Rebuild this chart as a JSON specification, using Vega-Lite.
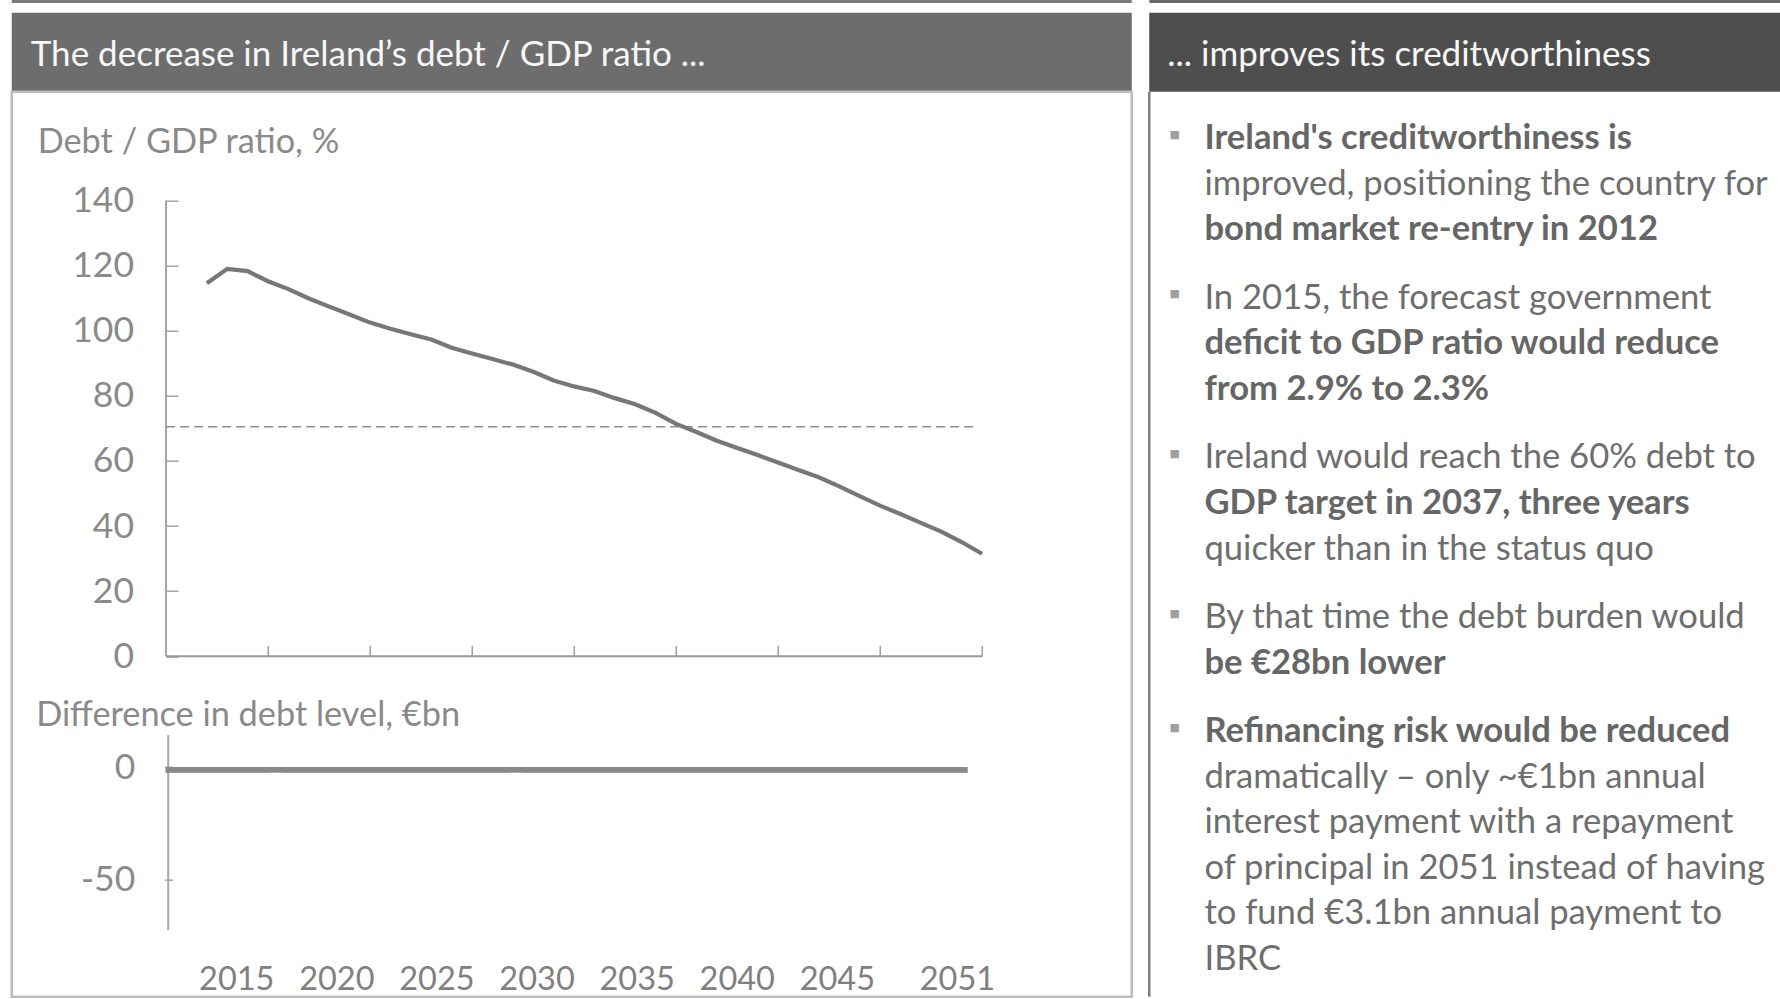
{
  "$schema": "https://vega.github.io/schema/vega-lite/v6.json",
  "background": "#ffffff",
  "padding": {"left": 9.75, "top": 0, "right": 0, "bottom": 0},
  "config": {"font": "Lato", "view": {"stroke": null}},
  "datasets": {
    "ratio": [
      {"year": 2013, "ratio": 114.6}, {"year": 2014, "ratio": 119.0}, {"year": 2015, "ratio": 118.3},
      {"year": 2016, "ratio": 115.2}, {"year": 2017, "ratio": 112.8}, {"year": 2018, "ratio": 109.9},
      {"year": 2019, "ratio": 107.4}, {"year": 2020, "ratio": 105.0}, {"year": 2021, "ratio": 102.5},
      {"year": 2022, "ratio": 100.6}, {"year": 2023, "ratio": 98.9}, {"year": 2024, "ratio": 97.3},
      {"year": 2025, "ratio": 94.8}, {"year": 2026, "ratio": 93.0}, {"year": 2027, "ratio": 91.3},
      {"year": 2028, "ratio": 89.6}, {"year": 2029, "ratio": 87.4}, {"year": 2030, "ratio": 84.7},
      {"year": 2031, "ratio": 82.9}, {"year": 2032, "ratio": 81.5}, {"year": 2033, "ratio": 79.3},
      {"year": 2034, "ratio": 77.4}, {"year": 2035, "ratio": 74.8}, {"year": 2036, "ratio": 71.4},
      {"year": 2037, "ratio": 68.9}, {"year": 2038, "ratio": 66.2}, {"year": 2039, "ratio": 64.0},
      {"year": 2040, "ratio": 61.8}, {"year": 2041, "ratio": 59.5}, {"year": 2042, "ratio": 57.2},
      {"year": 2043, "ratio": 55.0}, {"year": 2044, "ratio": 52.2}, {"year": 2045, "ratio": 49.2},
      {"year": 2046, "ratio": 46.3}, {"year": 2047, "ratio": 43.7}, {"year": 2048, "ratio": 41.0},
      {"year": 2049, "ratio": 38.3}, {"year": 2050, "ratio": 35.1}, {"year": 2051, "ratio": 31.5}
    ],
    "diff": [
      {"year": 2012, "diff": -2.6}, {"year": 2013, "diff": -2.6}, {"year": 2014, "diff": -2.6}, {"year": 2015, "diff": -2.6},
      {"year": 2016, "diff": -2.6}, {"year": 2017, "diff": -2.6}, {"year": 2018, "diff": -2.6}, {"year": 2019, "diff": -2.6},
      {"year": 2020, "diff": -2.6}, {"year": 2021, "diff": -2.6}, {"year": 2022, "diff": -2.6}, {"year": 2023, "diff": -2.6},
      {"year": 2024, "diff": -2.6}, {"year": 2025, "diff": -2.6}, {"year": 2026, "diff": -2.6}, {"year": 2027, "diff": -2.6},
      {"year": 2028, "diff": -2.6}, {"year": 2029, "diff": -2.6}, {"year": 2030, "diff": -2.6}, {"year": 2031, "diff": -2.6},
      {"year": 2032, "diff": -2.6}, {"year": 2033, "diff": -2.6}, {"year": 2034, "diff": -2.6}, {"year": 2035, "diff": -2.6},
      {"year": 2036, "diff": -2.6}, {"year": 2037, "diff": -2.6}, {"year": 2038, "diff": -2.6}, {"year": 2039, "diff": -2.6},
      {"year": 2040, "diff": -2.6}, {"year": 2041, "diff": -2.6}, {"year": 2042, "diff": -2.6}, {"year": 2043, "diff": -2.6},
      {"year": 2044, "diff": -2.6}, {"year": 2045, "diff": -2.6}, {"year": 2046, "diff": -2.6}, {"year": 2047, "diff": -2.6},
      {"year": 2048, "diff": -2.6}, {"year": 2049, "diff": -2.6}, {"year": 2050, "diff": -2.6}, {"year": 2051, "diff": -2.6}
    ],
    "bullets": [
      {"line": 0, "text": "Ireland's creditworthiness is", "bold": true, "first": true},
      {"line": 1, "text": "improved, positioning the country for", "bold": false, "first": false},
      {"line": 2, "text": "bond market re-entry in 2012", "bold": true, "first": false},
      {"line": 3.5, "text": "In 2015, the forecast government", "bold": false, "first": true},
      {"line": 4.5, "text": "deficit to GDP ratio would reduce", "bold": true, "first": false},
      {"line": 5.5, "text": "from 2.9% to 2.3%", "bold": true, "first": false},
      {"line": 7, "text": "Ireland would reach the 60% debt to", "bold": false, "first": true},
      {"line": 8, "text": "GDP target in 2037, three years", "bold": true, "first": false},
      {"line": 9, "text": "quicker than in the status quo", "bold": false, "first": false},
      {"line": 10.5, "text": "By that time the debt burden would", "bold": false, "first": true},
      {"line": 11.5, "text": "be €28bn lower", "bold": true, "first": false},
      {"line": 13, "text": "Refinancing risk would be reduced", "bold": true, "first": true},
      {"line": 14, "text": "dramatically – only ~€1bn annual", "bold": false, "first": false},
      {"line": 15, "text": "interest payment with a repayment", "bold": false, "first": false},
      {"line": 16, "text": "of principal in 2051 instead of having", "bold": false, "first": false},
      {"line": 17, "text": "to fund €3.1bn annual payment to", "bold": false, "first": false},
      {"line": 18, "text": "IBRC", "bold": false, "first": false}
    ]
  },
  "spacing": 13.5,
  "bounds": "full",
  "hconcat": [
    {
      "spacing": 9.7,
      "bounds": "flush",
      "vconcat": [
        {
          "width": 1120,
          "height": 3,
          "view": {"fill": "#7a7a7a", "stroke": null},
          "data": {"values": [{"edge": ""}]},
          "mark": {"type": "text", "baseline": "top", "fontSize": 1},
          "encoding": {"text": {"field": "edge"}}
        },
        {
          "spacing": 0,
          "bounds": "flush",
          "vconcat": [
            {
              "width": 1120,
              "height": 79,
              "view": {"fill": "#6d6d6d", "stroke": null},
              "data": {"values": [{"heading": "The decrease in Ireland’s debt / GDP ratio ..."}]},
              "mark": {"type": "text", "align": "left", "baseline": "middle", "dx": 19, "dy": 3, "font": "Lato", "fontSize": 35, "color": "#f7f7f7"},
              "encoding": {
                "text": {"field": "heading"},
                "x": {"datum": 0, "type": "quantitative", "scale": {"domain": [0, 1]}, "axis": null}
              }
            },
            {
              "width": 1120,
              "height": 905,
              "view": {"stroke": "#bdbdbd", "strokeWidth": 2.5, "fill": null},
              "resolve": {"scale": {"x": "independent", "y": "independent"}, "axis": {"x": "independent", "y": "independent"}},
              "layer": [
                {
                  "layer": [
                    {
                      "data": {"values": [{}]},
                      "mark": {"type": "rule", "color": "#a3a3a3", "strokeWidth": 2},
                      "encoding": {
                        "x": {"datum": 2011, "type": "quantitative", "scale": {"domain": [2003.436, 2058.338], "nice": false, "zero": false}},
                        "y": {"datum": 0, "type": "quantitative", "scale": {"domain": [-104.55, 173.42], "nice": false, "zero": false}},
                        "y2": {"datum": 140}
                      }
                    },
                    {
                      "data": {"values": [{}]},
                      "mark": {"type": "rule", "color": "#9a9a9a", "strokeWidth": 2},
                      "encoding": {
                        "x": {"datum": 2011, "type": "quantitative", "scale": {"domain": [2003.436, 2058.338], "nice": false, "zero": false}},
                        "x2": {"datum": 2051},
                        "y": {"datum": 0, "type": "quantitative", "scale": {"domain": [-104.55, 173.42], "nice": false, "zero": false}}
                      }
                    },
                    {
                      "data": {"values": [{"target": 70.5}]},
                      "mark": {"type": "rule", "color": "#8e8e8e", "strokeWidth": 1.6, "strokeDash": [9, 5]},
                      "encoding": {
                        "x": {"datum": 2011, "type": "quantitative", "scale": {"domain": [2003.436, 2058.338], "nice": false, "zero": false}},
                        "x2": {"datum": 2050.8},
                        "y": {"field": "target", "type": "quantitative", "scale": {"domain": [-104.55, 173.42], "nice": false, "zero": false}}
                      }
                    },
                    {
                      "data": {"name": "ratio"},
                      "mark": {"type": "line", "color": "#777777", "strokeWidth": 4.2},
                      "encoding": {
                        "x": {
                          "field": "year", "type": "quantitative",
                          "scale": {"domain": [2003.436, 2058.338], "nice": false, "zero": false},
                          "axis": {
                            "orient": "top", "offset": -564.6, "values": [2016, 2021, 2026, 2031, 2036, 2041, 2046, 2051],
                            "labels": false, "domain": false, "grid": false, "ticks": true, "tickSize": 11,
                            "tickColor": "#a0a0a0", "tickWidth": 1.5, "title": null
                          }
                        },
                        "y": {
                          "field": "ratio", "type": "quantitative",
                          "scale": {"domain": [-104.55, 173.42], "nice": false, "zero": false},
                          "axis": {
                            "orient": "left", "offset": -154.3, "values": [0, 20, 40, 60, 80, 100, 120, 140],
                            "domain": false, "grid": false, "ticks": true, "tickSize": -12, "tickColor": "#a6a6a6", "tickWidth": 1.5,
                            "labelPadding": 44.5, "labelFont": "Lato", "labelFontSize": 35.5, "labelColor": "#8a8a8a",
                            "labelFlush": false, "labelOverlap": false, "labelBaseline": "middle",
                            "title": "Debt / GDP ratio, %", "titleAngle": 0, "titleAlign": "left", "titleBaseline": "middle",
                            "titleX": -128.9, "titleY": 50.8, "titleFont": "Lato", "titleFontSize": 34.3,
                            "titleFontWeight": "normal", "titleColor": "#8a8a8a"
                          }
                        }
                      }
                    }
                  ]
                },
                {
                  "layer": [
                    {
                      "data": {"values": [{}]},
                      "mark": {"type": "rule", "color": "#a8a8a8", "strokeWidth": 2},
                      "encoding": {
                        "x": {"datum": 2011.6, "type": "quantitative", "scale": {"domain": [2004.035, 2059.481], "nice": false, "zero": false}},
                        "y": {"datum": -72.57, "type": "quantitative", "scale": {"domain": [-102.27, 300.67], "nice": false, "zero": false}},
                        "y2": {"datum": 14.25}
                      }
                    },
                    {
                      "data": {"name": "diff"},
                      "mark": {"type": "bar", "orient": "vertical", "width": 21.5, "color": "#898989"},
                      "encoding": {
                        "x": {
                          "field": "year", "type": "quantitative",
                          "scale": {"domain": [2004.035, 2059.481], "nice": false, "zero": false},
                          "axis": {
                            "orient": "bottom", "offset": -17.7, "values": [2015, 2020, 2025, 2030, 2035, 2040, 2045, 2051],
                            "format": "d", "domain": false, "ticks": false, "grid": false, "labelPadding": 0,
                            "labelBaseline": "middle", "labelFont": "Lato", "labelFontSize": 32.5, "labelColor": "#808080",
                            "labelFlush": false, "labelOverlap": false, "title": null
                          }
                        },
                        "y": {
                          "field": "diff", "type": "quantitative",
                          "scale": {"domain": [-102.27, 300.67], "nice": false, "zero": false},
                          "axis": {
                            "orient": "left", "offset": -152.8, "values": [0, -50],
                            "labelExpr": "replace(datum.label, '−', '-')",
                            "domain": false, "grid": false, "ticks": true, "tickSize": -8, "tickColor": "#a6a6a6", "tickWidth": 1.5,
                            "labelPadding": 37.8, "labelFont": "Lato", "labelFontSize": 35.5, "labelColor": "#8a8a8a",
                            "labelFlush": false, "labelOverlap": false, "labelBaseline": "middle",
                            "title": "Difference in debt level, €bn", "titleAngle": 0, "titleAlign": "left", "titleBaseline": "middle",
                            "titleX": -128.9, "titleY": 623.3, "titleFont": "Lato", "titleFontSize": 34.3,
                            "titleFontWeight": "normal", "titleColor": "#8a8a8a"
                          }
                        },
                        "y2": {"datum": 0}
                      }
                    }
                  ]
                }
              ]
            }
          ]
        }
      ]
    },
    {
      "spacing": 9.7,
      "bounds": "flush",
      "vconcat": [
        {
          "width": 633,
          "height": 3,
          "view": {"fill": "#6a6a6a", "stroke": null},
          "data": {"values": [{"edge": ""}]},
          "mark": {"type": "text", "baseline": "top", "fontSize": 1},
          "encoding": {"text": {"field": "edge"}}
        },
        {
          "spacing": 0,
          "bounds": "flush",
          "vconcat": [
            {
              "width": 633,
              "height": 79,
              "view": {"fill": "#4e4e4e", "stroke": null},
              "data": {"values": [{"heading": "... improves its creditworthiness"}]},
              "mark": {"type": "text", "align": "left", "baseline": "middle", "dx": 18, "dy": 3, "font": "Lato", "fontSize": 35, "color": "#f7f7f7"},
              "encoding": {
                "text": {"field": "heading"},
                "x": {"datum": 0, "type": "quantitative", "scale": {"domain": [0, 1]}, "axis": null}
              }
            },
            {
              "width": 633,
              "height": 905,
              "view": {"stroke": null},
              "data": {"name": "bullets"},
              "layer": [
                {
                  "data": {"values": [{}]},
                  "mark": {"type": "rule", "color": "#7f7f7f", "strokeWidth": 2.5},
                  "encoding": {
                    "x": {"datum": 0, "type": "quantitative", "scale": {"domain": [0, 1]}, "axis": null}
                  }
                },
                {
                  "transform": [{"filter": "datum.first"}],
                  "mark": {"type": "text", "align": "center", "baseline": "middle", "dx": 25.5, "dy": -1.5, "font": "DejaVu Sans", "fontSize": 11, "color": "#a0a0a0"},
                  "encoding": {
                    "x": {"datum": 0, "type": "quantitative", "scale": {"domain": [0, 1]}, "axis": null},
                    "y": {"field": "line", "type": "quantitative", "scale": {"domain": [-0.976, 18.87], "reverse": true, "nice": false, "zero": false}, "axis": null},
                    "text": {"value": "■"}
                  }
                },
                {
                  "transform": [{"filter": "!datum.bold"}],
                  "mark": {"type": "text", "align": "left", "baseline": "middle", "dx": 55.2, "dy": 3, "font": "Lato", "fontSize": 34.6, "fontWeight": "normal", "color": "#6e6e6e"},
                  "encoding": {
                    "x": {"datum": 0, "type": "quantitative", "scale": {"domain": [0, 1]}, "axis": null},
                    "y": {"field": "line", "type": "quantitative", "scale": {"domain": [-0.976, 18.87], "reverse": true, "nice": false, "zero": false}, "axis": null},
                    "text": {"field": "text"}
                  }
                },
                {
                  "transform": [{"filter": "datum.bold"}],
                  "mark": {"type": "text", "align": "left", "baseline": "middle", "dx": 55.2, "dy": 3, "font": "Lato", "fontSize": 34.6, "fontWeight": "bold", "color": "#666666"},
                  "encoding": {
                    "x": {"datum": 0, "type": "quantitative", "scale": {"domain": [0, 1]}, "axis": null},
                    "y": {"field": "line", "type": "quantitative", "scale": {"domain": [-0.976, 18.87], "reverse": true, "nice": false, "zero": false}, "axis": null},
                    "text": {"field": "text"}
                  }
                }
              ]
            }
          ]
        }
      ]
    }
  ]
}
